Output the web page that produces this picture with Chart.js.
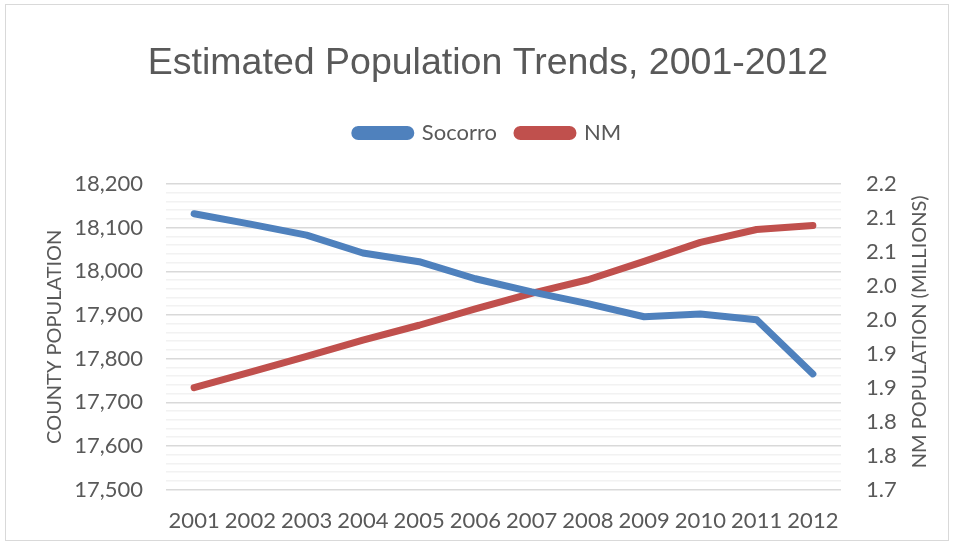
<!DOCTYPE html>
<html>
<head>
<meta charset="utf-8">
<script src="https://cdn.jsdelivr.net/npm/chart.js@4.4.1/dist/chart.umd.min.js"></script>
<style>
  html, body { margin: 0; padding: 0; background: #fff; }
  #wrap { position: relative; width: 956px; height: 550px; }
  #frame { position: absolute; left: 5px; top: 4px; width: 944px; height: 537px; border: 1px solid #d9d9d9; box-sizing: border-box; pointer-events: none; }
  canvas { position: absolute; left: 0; top: 0; }
</style>
</head>
<body>
<div id="wrap">
  <canvas id="popChart" width="956" height="550"></canvas>
  <div id="frame"></div>
</div>
<script>
// Années et populations estimées
const years = ['2001', '2002', '2003', '2004', '2005', '2006', '2007', '2008', '2009', '2010', '2011', '2012'];
const socorro = [18132, 18108, 18083, 18042, 18022, 17983, 17953, 17926, 17896, 17902, 17889, 17765];
const nm = [1.850, 1.873, 1.896, 1.920, 1.942, 1.966, 1.989, 2.009, 2.036, 2.064, 2.083, 2.089];

// Étiquettes des axes
const countyTicks = ['17,500', '17,600', '17,700', '17,800', '17,900', '18,000', '18,100', '18,200'];
const nmTicks = ['1.7', '1.8', '1.8', '1.9', '1.9', '2.0', '2.0', '2.1', '2.1', '2.2'];
const nmTitle = 'NM POPULATION (MILLIONS)';

const textColor = '#595959';
const bodyFont = 'Lato, "Open Sans", sans-serif';
const titleFont = '"Liberation Sans", Arial, sans-serif';

// espace supplémentaire sous la légende
const legendMargin = {
    id: 'legendMargin',
    beforeInit(chart) {
        const fit = chart.legend.fit;
        chart.legend.fit = function () {
            fit.bind(chart.legend)();
            this.height += 30;
        };
    }
};

// titre de l'axe de droite, écrit de bas en haut
const rightTitle = {
    id: 'rightTitle',
    afterDraw(chart) {
        const area = chart.chartArea;
        const c = chart.ctx;
        c.save();
        c.translate(920, (area.top + area.bottom) / 2 - 5);
        c.rotate(-Math.PI / 2);
        c.fillStyle = textColor;
        c.font = '20px ' + bodyFont;
        c.textAlign = 'center';
        c.textBaseline = 'middle';
        c.fillText(nmTitle, 0, 0);
        c.restore();
    }
};

const ctx = document.getElementById('popChart').getContext('2d');
new Chart(ctx, {
    type: 'line',
    data: {
        labels: years,
        datasets: [{
            label: 'Socorro',
            data: socorro,
            yAxisID: 'y',
            borderColor: '#4f81bd',
            backgroundColor: '#4f81bd',
            borderWidth: 7,
            borderCapStyle: 'round',
            borderJoinStyle: 'round',
            pointRadius: 0,
            tension: 0
        }, {
            label: 'NM',
            data: nm,
            yAxisID: 'y1',
            borderColor: '#c0504d',
            backgroundColor: '#c0504d',
            borderWidth: 7,
            borderCapStyle: 'round',
            borderJoinStyle: 'round',
            pointRadius: 0,
            tension: 0
        }]
    },
    plugins: [legendMargin, rightTitle],
    options: {
        responsive: false,
        animation: false,
        layout: { padding: { left: 20, right: 0, top: 0, bottom: -2 } },
        plugins: {
            title: {
                display: true,
                text: 'Estimated Population Trends, 2001-2012',
                color: textColor,
                font: { family: titleFont, size: 37.5, weight: 'normal' },
                padding: { top: 41, bottom: 16 }
            },
            legend: {
                position: 'top',
                labels: {
                    color: textColor,
                    font: { family: bodyFont, size: 22 },
                    boxWidth: 56,
                    boxHeight: 7,
                    useBorderRadius: true,
                    borderRadius: 3.5,
                    padding: 20
                }
            },
            tooltip: { enabled: false }
        },
        scales: {
            x: {
                offset: true,
                grid: { display: false, drawTicks: false },
                border: { display: false },
                ticks: {
                    color: textColor,
                    font: { family: bodyFont, size: 22 },
                    padding: 18,
                    maxRotation: 0,
                    autoSkip: false
                }
            },
            y: {
                position: 'left',
                min: 17500,
                max: 18200,
                border: { display: false },
                grid: {
                    drawTicks: false,
                    lineWidth: 1.5,
                    color: c => (c.index % 5 === 0 ? '#d9d9d9' : '#f2f2f2')
                },
                ticks: {
                    stepSize: 20,
                    autoSkip: false,
                    color: textColor,
                    font: { family: bodyFont, size: 22 },
                    padding: 23,
                    callback: (v, i) => (i % 5 === 0 ? countyTicks[i / 5] : '')
                },
                title: {
                    display: true,
                    text: 'COUNTY POPULATION',
                    color: textColor,
                    font: { family: bodyFont, size: 20 },
                    padding: { top: 23, bottom: 0 }
                },
                afterFit: s => { s.width = 146; }
            },
            y1: {
                position: 'right',
                min: 1.70,
                max: 2.15,
                border: { display: false },
                grid: { display: false, drawTicks: false },
                ticks: {
                    stepSize: 0.05,
                    autoSkip: false,
                    color: textColor,
                    font: { family: bodyFont, size: 22 },
                    padding: 25,
                    callback: (v, i) => nmTicks[i]
                },
                afterFit: s => { s.width = 115; }
            }
        }
    }
});
</script>
</body>
</html>
